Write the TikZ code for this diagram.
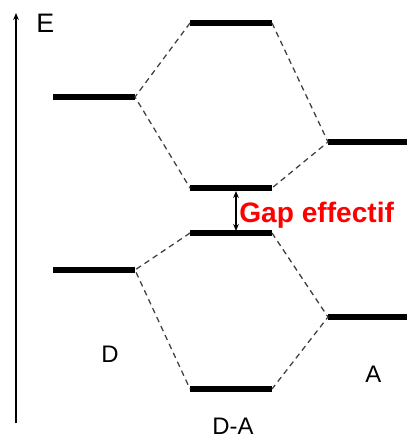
\documentclass[tikz,border=0pt]{standalone}
\usepackage{fontspec}
\setmainfont{Liberation Sans}
\usetikzlibrary{arrows.meta}
\tikzset{
  niveau/.style={line width=4.2pt},
  liaison/.style={line width=0.9pt, gray!50!black, dash pattern=on 4pt off 3pt},
  etiquette/.style={inner sep=0pt, font=\fontsize{17pt}{17pt}\selectfont}
}
\begin{document}
\begin{tikzpicture}[x=0.025cm, y=-0.025cm, line join=round, >={Stealth[length=5pt,width=4pt]}]
	\useasboundingbox (0,0) rectangle (407,439);
	% Axe des energies
	\coordinate (bas) at (16,423);
	\coordinate (haut) at (16,13);
	\draw[->, line width=0.8pt] (bas) -- (haut);
	\node[etiquette, font=\fontsize{19pt}{19pt}\selectfont, anchor=base west] (E) at (36,33) {E};
	
	% Niveaux du donneur D
	\coordinate (D1g) at (53,97);  \coordinate (D1d) at (135,97);
	\coordinate (D2g) at (53,270); \coordinate (D2d) at (135,270);
	% Niveaux du complexe D-A
	\coordinate (C1g) at (190,23);  \coordinate (C1d) at (272,23);
	\coordinate (C2g) at (190,188); \coordinate (C2d) at (272,188);
	\coordinate (C3g) at (190,233); \coordinate (C3d) at (272,233);
	\coordinate (C4g) at (190,389); \coordinate (C4d) at (272,389);
	% Niveaux de l'accepteur A
	\coordinate (A1g) at (328,142); \coordinate (A1d) at (407,142);
	\coordinate (A2g) at (328,317); \coordinate (A2d) at (407,317);
	
	\foreach \n in {D1,D2,C1,C2,C3,C4,A1,A2}
		\draw[niveau] (\n g) -- (\n d);
	
	% Correlations en pointilles
	\draw[liaison] (C1g) -- (D1d) -- (C2g);
	\draw[liaison] (C1d) -- (A1g) -- (C2d);
	\draw[liaison] (C3g) -- (D2d) -- (C4g);
	\draw[liaison] (C3d) -- (A2g) -- (C4d);
	
	% Gap effectif
	\coordinate (gaph) at (236,191);
	\coordinate (gapb) at (236,231);
	\draw[<->, line width=0.8pt] (gaph) -- (gapb);
	\node[inner sep=0pt, anchor=base west, text=red, font=\fontsize{20pt}{20pt}\selectfont\bfseries] (gap) at (239,222) {Gap effectif};
	
	% Etiquettes
	\node[etiquette, anchor=base west] (D) at (101,362) {D};
	\node[etiquette, anchor=base west] (A) at (365,382) {A};
	\node[etiquette, anchor=base west] (DA) at (212,434) {D-A};
\end{tikzpicture}
\end{document}
